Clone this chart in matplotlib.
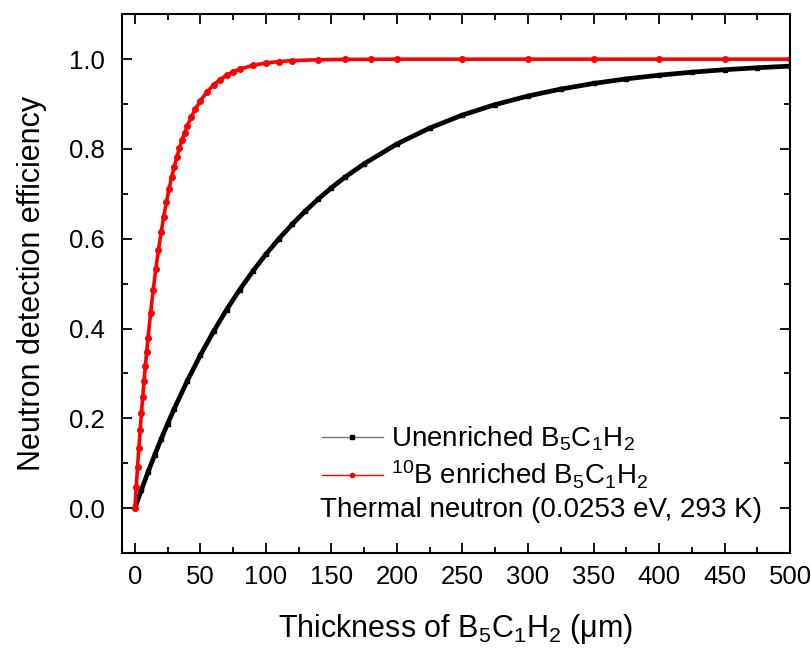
import matplotlib.pyplot as plt
from matplotlib.lines import Line2D
from matplotlib.ticker import MultipleLocator

plt.rcParams['font.family'] = ['Liberation Sans', 'DejaVu Sans']
plt.rcParams['mathtext.fontset'] = 'custom'
plt.rcParams['mathtext.rm'] = 'Liberation Sans'
plt.rcParams['mathtext.it'] = 'Liberation Sans:italic'

# thickness (um) and efficiency
x_red = [0, 1, 2, 3, 4, 5, 6, 7, 8, 9, 10, 12, 14, 16, 18, 20, 22, 24, 26, 28,
         30, 32, 34, 36, 38, 40, 43, 46, 50, 55, 60, 65, 70, 75, 80, 90, 100,
         110, 120, 140, 160, 180, 200, 250, 300, 350, 400, 450, 500]
eff_red = [0.0, 0.0465, 0.0909, 0.1331, 0.1734, 0.2119, 0.2485, 0.2835, 0.3168,
           0.3486, 0.3788, 0.4353, 0.4866, 0.5332, 0.5756, 0.6142, 0.6492, 0.6811,
           0.7100, 0.7364, 0.7604, 0.7821, 0.8019, 0.8199, 0.8362, 0.8511, 0.8710,
           0.8881, 0.9075, 0.9271, 0.9426, 0.9547, 0.9643, 0.9719, 0.9778, 0.9862,
           0.9914, 0.9947, 0.9967, 0.9987, 0.9995, 0.9998, 1.0, 1.0, 1.0, 1.0,
           1.0, 1.0, 1.0]

x_black = [0, 5, 10, 15, 20, 25, 30, 40, 50, 60, 70, 80, 90, 100, 110, 120, 130,
           140, 150, 160, 175, 200, 225, 250, 275, 300, 325, 350, 375, 400, 425,
           450, 475, 500]
eff_black = [0.0, 0.0408, 0.0800, 0.1175, 0.1535, 0.1881, 0.2212, 0.2835, 0.3408,
             0.3935, 0.4420, 0.4866, 0.5276, 0.5654, 0.6002, 0.6321, 0.6615, 0.6886,
             0.7135, 0.7364, 0.7671, 0.8111, 0.8466, 0.8755, 0.8989, 0.9179, 0.9334,
             0.9459, 0.9561, 0.9643, 0.9710, 0.9765, 0.9809, 0.9845]

fig = plt.figure(figsize=(8.12, 6.49), dpi=100)
ax = fig.add_axes([0.150, 0.148, 0.823, 0.830])

ax.plot(x_black, eff_black, color='black', lw=3.4, marker='s', ms=3.5,
        solid_capstyle='round')
ax.plot(x_red, eff_red, color='red', lw=2.6, marker='o', ms=4,
        solid_capstyle='round')

ax.set_xlim(-10, 500)
ax.set_ylim(-0.1, 1.1)
ax.xaxis.set_major_locator(MultipleLocator(50))
ax.xaxis.set_minor_locator(MultipleLocator(25))
ax.yaxis.set_major_locator(MultipleLocator(0.2))
ax.yaxis.set_minor_locator(MultipleLocator(0.1))
ax.yaxis.set_major_formatter(plt.FuncFormatter(lambda v, p: f'{v:.1f}'))
ax.tick_params(which='both', direction='in', top=True, right=True, width=1.3,
               labelsize=18.5)
ax.tick_params(axis='y', pad=12)
ax.tick_params(axis='x', pad=9)
ax.tick_params(which='major', length=7)
ax.tick_params(which='minor', length=4)
for s in ax.spines.values():
    s.set_linewidth(1.5)

ax.set_xlabel('Thickness of B$_5$C$_1$H$_2$ (\u03bcm)', fontsize=22, labelpad=16)
ax.set_ylabel('Neutron detection efficiency', fontsize=22, labelpad=16)

handles = [Line2D([], [], color='0.45', lw=1, marker='s', ms=3, mfc='black', mec='black'),
           Line2D([], [], color='red', lw=1, marker='o', ms=3)]
labels = ['Unenriched B$_5$C$_1$H$_2$', '$^{10}$B enriched B$_5$C$_1$H$_2$']
ax.legend(handles, labels, loc='upper left', bbox_to_anchor=(0.262, 0.285),
          frameon=False, fontsize=20, handlelength=2.2, handletextpad=0.3,
          labelspacing=0.2)
ax.text(0.296, 0.08, 'Thermal neutron (0.0253 eV, 293 K)', transform=ax.transAxes,
        fontsize=20, va='center')

fig.savefig('out.png', dpi=100)
